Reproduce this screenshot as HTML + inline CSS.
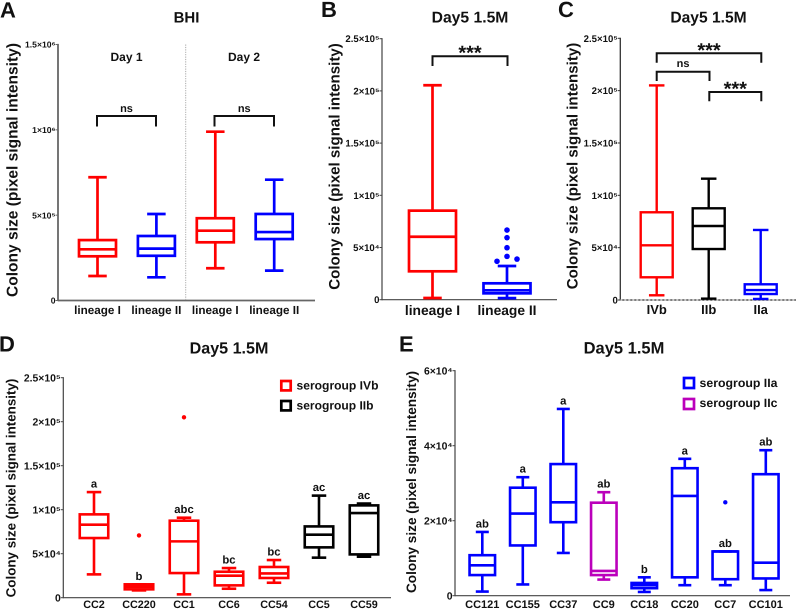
<!DOCTYPE html>
<html>
<head>
<meta charset="utf-8">
<title>Colony size box plots</title>
<style>
html,body{margin:0;padding:0;background:#fff;}
svg{display:block;font-family:"Liberation Sans",sans-serif;filter:blur(0.35px);}
text{font-weight:bold;fill:#111;text-rendering:geometricPrecision;}
</style>
</head>
<body>
<svg id="figure" width="796" height="610" viewBox="0 0 796 610" xmlns="http://www.w3.org/2000/svg">
<g id="static-text">
<text x="0" y="17.5" font-size="22">A</text>
<text x="321" y="17" font-size="22">B</text>
<text x="558" y="17" font-size="22">C</text>
<text x="-1" y="351.5" font-size="22">D</text>
<text x="399" y="351.5" font-size="22">E</text>
<text x="186.5" y="22.5" font-size="15" text-anchor="middle">BHI</text>
<text x="470" y="22.5" font-size="15.7" text-anchor="middle">Day5 1.5M</text>
<text x="708.5" y="22.5" font-size="15.6" text-anchor="middle">Day5 1.5M</text>
<text x="229" y="353.5" font-size="16.1" text-anchor="middle">Day5 1.5M</text>
<text x="624" y="353.5" font-size="16.5" text-anchor="middle">Day5 1.5M</text>
<text transform="translate(17.5 170) rotate(-90)" font-size="15.55" text-anchor="middle">Colony size (pixel signal intensity)</text>
<text transform="translate(339.5 166.5) rotate(-90)" font-size="15.1" text-anchor="middle">Colony size (pixel signal intensity)</text>
<text transform="translate(577.5 166) rotate(-90)" font-size="15.1" text-anchor="middle">Colony size (pixel signal intensity)</text>
<text transform="translate(15.5 488) rotate(-90)" font-size="13.4" text-anchor="middle">Colony size (pixel signal intensity)</text>
<text transform="translate(416 482) rotate(-90)" font-size="13.6" text-anchor="middle">Colony size (pixel signal intensity)</text>
<text x="126.5" y="61" font-size="12" text-anchor="middle">Day 1</text>
<text x="244" y="61" font-size="12" text-anchor="middle">Day 2</text>
<text x="296.5" y="389.5" font-size="12" textLength="82" lengthAdjust="spacingAndGlyphs">serogroup IVb</text>
<text x="296.5" y="409.5" font-size="12" textLength="77" lengthAdjust="spacingAndGlyphs">serogroup IIb</text>
<text x="699.5" y="387" font-size="12" textLength="78" lengthAdjust="spacingAndGlyphs">serogroup IIa</text>
<text x="699.5" y="407" font-size="12" textLength="78" lengthAdjust="spacingAndGlyphs">serogroup IIc</text>
<rect x="281.3" y="381" width="9.4" height="9.4" fill="none" stroke="#f00" stroke-width="2.7"/>
<rect x="281.3" y="401" width="9.4" height="9.4" fill="none" stroke="#000" stroke-width="2.7"/>
<rect x="684" y="378" width="10" height="10" fill="none" stroke="#00f" stroke-width="2.7"/>
<rect x="684" y="399" width="10" height="10" fill="none" stroke="#b0b" stroke-width="2.7"/>
</g>
<g id="plots"></g>
</svg>
<script>
// Each row of a statistics array reads: low whisker, Q1, median, Q3, high whisker.
const panelACategories = ["lineage I", "lineage II", "lineage I", "lineage II"];
const panelAStats = [
  [143500, 259000, 300000, 354000, 722000],
  [136000, 262000, 304000, 378000, 507000],
  [189000, 341000, 409000, 482000, 989000],
  [175000, 360000, 401000, 507000, 708000]
];
const panelAColors = ["#f00", "#00f", "#f00", "#00f"];
const panelATicks = [0, 500000, 1000000, 1500000];
const panelATickLabels = ["0", "5×10⁵", "1×10⁶", "1.5×10⁶"];
const panelAOutlierCategory = [];
const panelAOutlierValues = [];

const panelBCategories = ["lineage I", "lineage II"];
const panelBStats = [
  [1600, 27200, 60300, 85300, 205400],
  [1500, 6100, 9000, 15700, 32300]
];
const panelBColors = ["#f00", "#00f"];
const panelBTicks = [0, 50000, 100000, 150000, 200000, 250000];
const panelBTickLabels = ["0", "5×10⁴", "1×10⁵", "1.5×10⁵", "2×10⁵", "2.5×10⁵"];
const panelBOutlierCategory = [1, 1, 1, 1, 1, 1];
const panelBOutlierValues = [66700, 59400, 49800, 41500, 36800, 38900];
const panelBOutlierJitter = [0, 0, 0, 0, -10, 10];

const panelCCategories = ["IVb", "IIb", "IIa"];
const panelCStats = [
  [4500, 21700, 52200, 83800, 205000],
  [1300, 48700, 70700, 87600, 115900],
  [1000, 5700, 9500, 15000, 66900]
];
const panelCColors = ["#f00", "#000", "#00f"];
const panelCTicks = [0, 50000, 100000, 150000, 200000, 250000];
const panelCTickLabels = ["0", "5×10⁴", "1×10⁵", "1.5×10⁵", "2×10⁵", "2.5×10⁵"];
const panelCOutlierCategory = [];
const panelCOutlierValues = [];

const panelDCategories = ["CC2", "CC220", "CC1", "CC6", "CC54", "CC5", "CC59"];
const panelDStats = [
  [26500, 67800, 83000, 94700, 120000],
  [8300, 9500, 12500, 15200, 15200],
  [3800, 28000, 64000, 87500, 90900],
  [10200, 14000, 25000, 29500, 33700],
  [17000, 22400, 27600, 34900, 42800],
  [45500, 57200, 71600, 81000, 116000],
  [46600, 49200, 96200, 104900, 107000]
];
const panelDColors = ["#f00", "#f00", "#f00", "#f00", "#f00", "#000", "#000"];
const panelDLetters = ["a", "b", "abc", "bc", "bc", "ac", "ac"];
const panelDTicks = [0, 50000, 100000, 150000, 200000, 250000];
const panelDTickLabels = ["0", "5×10⁴", "1×10⁵", "1.5×10⁵", "2×10⁵", "2.5×10⁵"];
const panelDOutlierCategory = [1, 2];
const panelDOutlierValues = [70800, 205000];

const panelECategories = ["CC121", "CC155", "CC37", "CC9", "CC18", "CC20", "CC7", "CC101"];
const panelEStats = [
  [1100, 5500, 8100, 10800, 17000],
  [3000, 13400, 21900, 28800, 31600],
  [11400, 19600, 24900, 35100, 49800],
  [4300, 5500, 6600, 24800, 27600],
  [1000, 2000, 2800, 3400, 4900],
  [2800, 4900, 26600, 34000, 36500],
  [2800, 4400, 11800, 11800, 11800],
  [1500, 4600, 8800, 32400, 38800]
];
const panelEColors = ["#00f", "#00f", "#00f", "#b0b", "#00f", "#00f", "#00f", "#00f"];
const panelELetters = ["ab", "a", "a", "ab", "b", "a", "ab", "ab"];
const panelETicks = [0, 20000, 40000, 60000];
const panelETickLabels = ["0", "2×10⁴", "4×10⁴", "6×10⁴"];
const panelEOutlierCategory = [6];
const panelEOutlierValues = [24900];

const SVG_NS = "http://www.w3.org/2000/svg";
const plotRoot = document.getElementById("plots");

function make(parent, tag, attrs) {
  const el = document.createElementNS(SVG_NS, tag);
  for (const k in attrs) el.setAttribute(k, attrs[k]);
  parent.appendChild(el);
  return el;
}

function drawLine(parent, name, x1, y1, x2, y2, color, width) {
  const el = make(parent, "line", {x1: x1, y1: y1, x2: x2, y2: y2, stroke: color, "stroke-width": width});
  
  
  return el;
}

function drawLabel(parent, name, x, y, size, anchor, content) {
  const el = make(parent, "text", {x: x, y: y, "font-size": size, "text-anchor": anchor});
  el.textContent = content;
  
  
  return el;
}

function drawBracket(parent, name, x1, x2, top, bottom, label, labelY, labelSize) {
  const el = make(parent, "path", {d: "M" + x1 + " " + bottom + "V" + top + "H" + x2 + "V" + bottom, fill: "none", stroke: "#111", "stroke-width": 2});
  
  
  drawLabel(parent, name + "-label", (x1 + x2) / 2, labelY, labelSize, "middle", label);
}

function drawPanel(p) {
  const g = make(plotRoot, "g", {});
  
  
  const yScale = function (v) { return p.y0 - v / p.yMax * (p.y0 - p.yTop); };
  const xScale = function (i) { return p.x0 + i * p.step; };

  // axes
  drawLine(g, "y-axis", p.axisX, p.yTop - 0.6, p.axisX, p.y0 + 0.6, p.axisColor, p.axisWidth);
  drawLine(g, "x-axis", p.axisX, p.y0, p.axisEnd, p.y0, p.axisColor, p.axisWidth);
  p.ticks.forEach(function (t, i) {
    const ty = yScale(t);
    drawLine(g, "y-tick", p.axisX - 2.5, ty, p.axisX, ty, p.axisColor, 1);
    drawLabel(g, "y-tick-label", p.axisX - 2.5, ty + p.tickSize * 0.36, p.tickSize, "end", p.tickLabels[i]);
  });
  if (p.baseDash) {
    const base = drawLine(g, "zero-baseline", p.axisX, p.y0, p.axisEnd, p.y0, "#fff", 0.7);
    base.setAttribute("stroke-dasharray", "2 2");
  }

  // boxes
  p.stats.forEach(function (s, i) {
    const cx = xScale(i), col = p.colors[i], sw = p.strokeWidth, hw = p.boxWidth / 2, cap = p.capWidth / 2;
    drawLine(g, "whisker-low", cx, yScale(s[0]), cx, yScale(s[1]), col, sw);
    drawLine(g, "whisker-high", cx, yScale(s[3]), cx, yScale(s[4]), col, sw);
    drawLine(g, "cap-low", cx - cap, yScale(s[0]), cx + cap, yScale(s[0]), col, sw);
    drawLine(g, "cap-high", cx - cap, yScale(s[4]), cx + cap, yScale(s[4]), col, sw);
    const box = make(g, "rect", {x: cx - hw, y: yScale(s[3]), width: p.boxWidth, height: yScale(s[1]) - yScale(s[3]), fill: "none", stroke: col, "stroke-width": sw});
    
    
    drawLine(g, "median-line", cx - hw, yScale(s[2]), cx + hw, yScale(s[2]), col, sw);
    drawLabel(g, "x-tick-label", cx, p.labelY, p.labelSize, "middle", p.categories[i]);
    if (p.letters) {
      drawLabel(g, "significance-letter", cx, yScale(s[4]) - 4.5, 11.3, "middle", p.letters[i]);
    }
  });

  // outliers
  p.outlierValues.forEach(function (v, i) {
    const shift = p.outlierJitter ? p.outlierJitter[i] : 0;
    const dot = make(g, "circle", {cx: xScale(p.outlierCategory[i]) + shift, cy: yScale(v), r: p.dotRadius, fill: p.colors[p.outlierCategory[i]]});
    
    
  });
  return g;
}

const panelA = drawPanel({
  id: "panel-a", x0: 97.5, step: 58.9, axisX: 58, axisEnd: 315, y0: 300.5, yTop: 44.5, yMax: 1500000,
  axisColor: "#666", axisWidth: 1.8, tickSize: 8.6, labelSize: 11.7, labelY: 314, strokeWidth: 2.7, boxWidth: 37, capWidth: 18.5, dotRadius: 2,
  ticks: panelATicks, tickLabels: panelATickLabels, categories: panelACategories, stats: panelAStats, colors: panelAColors,
  outlierCategory: panelAOutlierCategory, outlierValues: panelAOutlierValues
});
const panelB = drawPanel({
  id: "panel-b", x0: 432.5, step: 74.5, axisX: 382, axisEnd: 557, y0: 299.7, yTop: 38.7, yMax: 250000,
  axisColor: "#444", axisWidth: 1.2, tickSize: 9.6, labelSize: 13.8, labelY: 315, strokeWidth: 2.7, boxWidth: 47, capWidth: 18.5, dotRadius: 2.8,
  ticks: panelBTicks, tickLabels: panelBTickLabels, categories: panelBCategories, stats: panelBStats, colors: panelBColors,
  outlierCategory: panelBOutlierCategory, outlierValues: panelBOutlierValues, outlierJitter: panelBOutlierJitter
});
const panelC = drawPanel({
  id: "panel-c", x0: 656.7, step: 52, axisX: 620.3, axisEnd: 796, y0: 300, yTop: 38.3, yMax: 250000, baseDash: true,
  axisColor: "#333", axisWidth: 1.3, tickSize: 9.6, labelSize: 13, labelY: 314, strokeWidth: 2.4, boxWidth: 32, capWidth: 15.5, dotRadius: 2,
  ticks: panelCTicks, tickLabels: panelCTickLabels, categories: panelCCategories, stats: panelCStats, colors: panelCColors,
  outlierCategory: panelCOutlierCategory, outlierValues: panelCOutlierValues
});
const panelD = drawPanel({
  id: "panel-d", x0: 94, step: 45, axisX: 63.3, axisEnd: 391, y0: 597.7, yTop: 377.7, yMax: 250000,
  axisColor: "#444", axisWidth: 1.2, tickSize: 10.4, labelSize: 10.8, labelY: 608, strokeWidth: 2.6, boxWidth: 28.5, capWidth: 14.5, dotRadius: 2.2,
  ticks: panelDTicks, tickLabels: panelDTickLabels, categories: panelDCategories, stats: panelDStats, colors: panelDColors, letters: panelDLetters,
  outlierCategory: panelDOutlierCategory, outlierValues: panelDOutlierValues
});
const panelE = drawPanel({
  id: "panel-e", x0: 482.3, step: 40.5, axisX: 455, axisEnd: 790, y0: 595.7, yTop: 370.7, yMax: 60000,
  axisColor: "#444", axisWidth: 1.2, tickSize: 10.4, labelSize: 11, labelY: 607.8, strokeWidth: 2.6, boxWidth: 25.5, capWidth: 13, dotRadius: 2.2,
  ticks: panelETicks, tickLabels: panelETickLabels, categories: panelECategories, stats: panelEStats, colors: panelEColors, letters: panelELetters,
  outlierCategory: panelEOutlierCategory, outlierValues: panelEOutlierValues
});

// Day 1 / Day 2 divider and significance brackets
const dayDivider = drawLine(panelA, "day-divider", 185.7, 44.5, 185.7, 300, "#aaa", 1);
dayDivider.setAttribute("stroke-dasharray", "1.2 1.2");
drawBracket(panelA, "bracket-day-1", 97, 156, 116, 126.5, "ns", 112, 11);
drawBracket(panelA, "bracket-day-2", 214.5, 274, 116, 126.5, "ns", 112, 11);
drawBracket(panelB, "bracket-lineage", 432.5, 507.5, 56.3, 66, "***", 59.6, 20);
drawBracket(panelC, "bracket-ivb-iia", 656.7, 761.3, 53.3, 62.7, "***", 57, 20);
drawBracket(panelC, "bracket-ivb-iib", 656.7, 709.5, 71.7, 81, "ns", 67, 11);
drawBracket(panelC, "bracket-iib-iia", 709.3, 761.3, 92, 101.3, "***", 95.6, 20);
</script>
</body>
</html>
